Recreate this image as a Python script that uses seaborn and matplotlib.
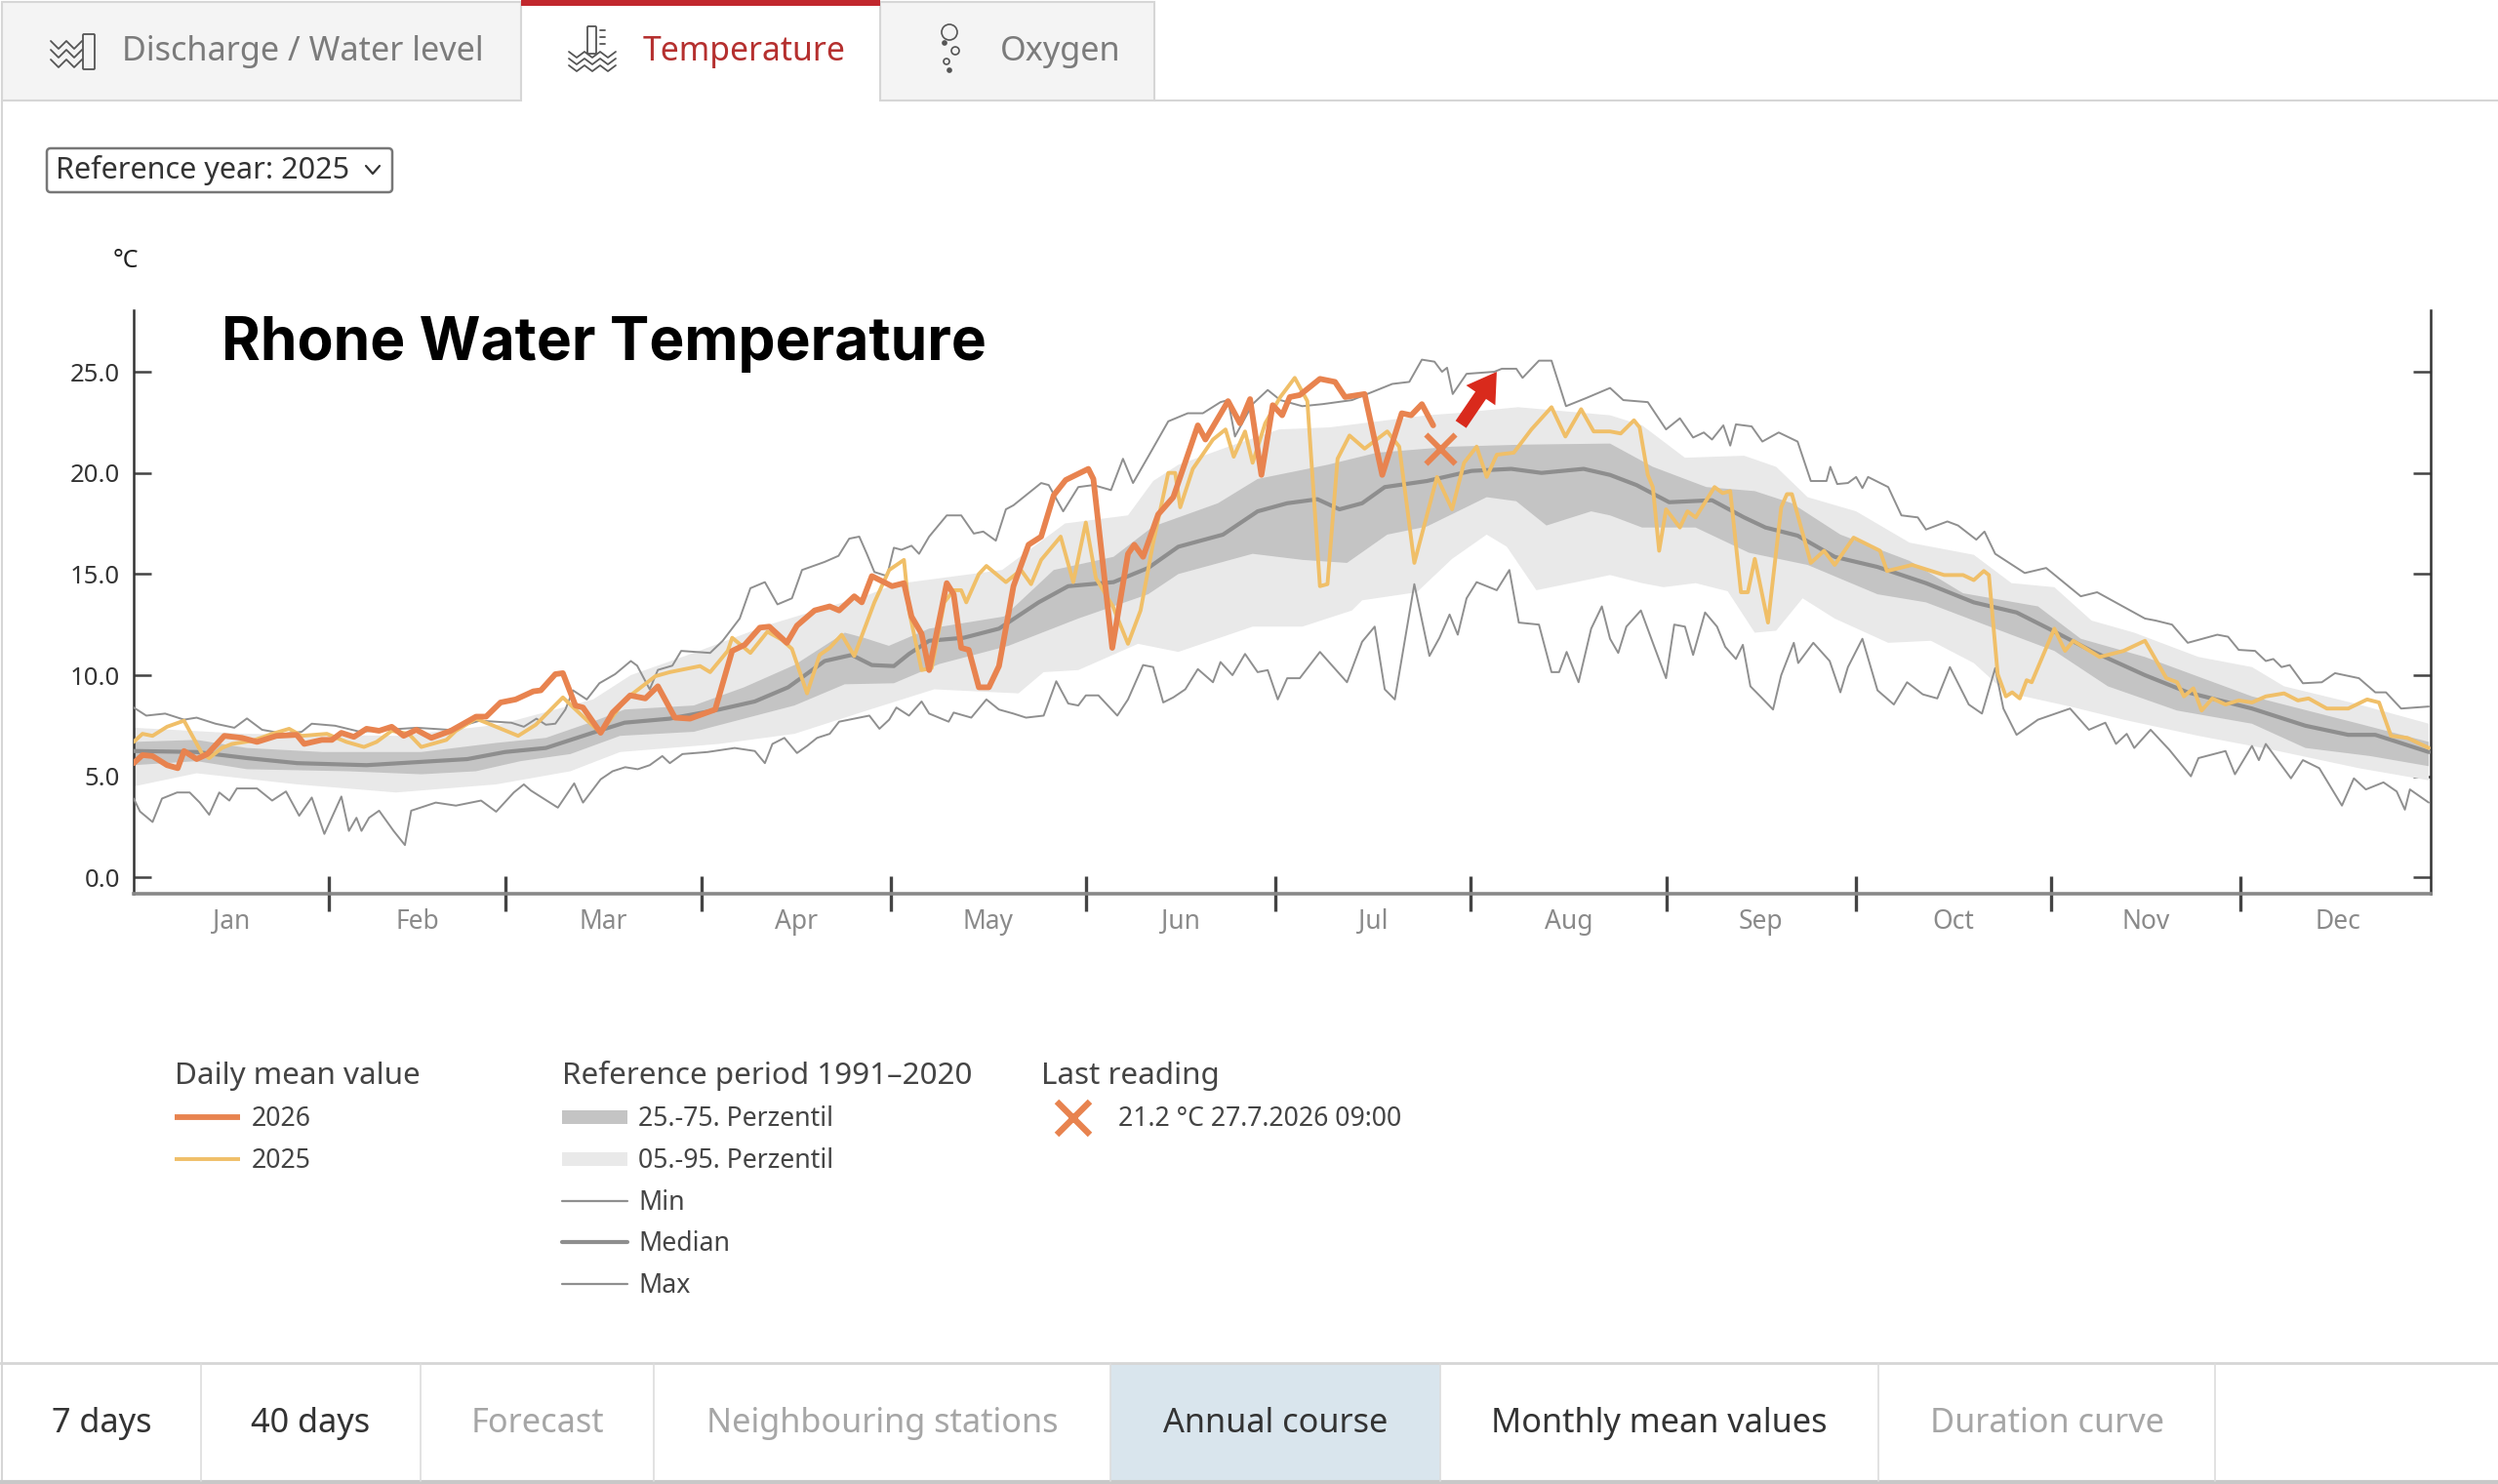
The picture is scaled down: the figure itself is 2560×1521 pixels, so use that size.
import numpy as np
import pandas as pd
import matplotlib
matplotlib.use("Agg")
import matplotlib.pyplot as plt
from matplotlib.patches import Rectangle, FancyBboxPatch, Circle
import seaborn as sns

# ---- values: (day of year, deg C) ----
months = ["Jan", "Feb", "Mar", "Apr", "May", "Jun", "Jul", "Aug", "Sep", "Oct", "Nov", "Dec"]
month_len = [31, 28, 31, 30, 31, 30, 31, 31, 30, 31, 30, 31]
y_ticks = [0, 5, 10, 15, 20, 25]

max_day = [0,2,5,8,10,13,16,18,20.4,24,26.7,28.3,32,36,40,45,50,55,60,62,64,65.5,67,68.6,69.8,72,74,76.5,79,80,82,83.3,85.6,87,91.6,93.6,96.3,98,100.3,102.3,104.6,106.2,109.8,112,113.7,115.3,116.5,117.7,119.7,120.8,122,123.6,124.8,126.4,129.2,131.5,133.5,135,137,138.6,139.8,141,144.2,145.4,147.7,150.1,152.5,155.3,157.2,158.8,161.2,164.4,167.5,169.9,172.7,173.9,175,177.8,180.2,182.2,185.7,188.9,193.6,196.8,200,202.7,204.7,206.7,207.9,208.7,209.6,211.8,216.2,217.4,219.7,220.7,223.3,225.3,227.6,230.8,234.6,236.7,240.6,243.5,245.7,247.8,249.5,250.8,252.6,253.7,254.6,257.1,258.8,261.4,264.4,266.5,269,269.6,270.7,272.4,273.7,274.7,275.6,278.8,280.9,283.5,284.8,288.2,289.9,292.8,294.1,295.8,300.5,303.9,309.4,312,319.6,321.3,323.9,326.4,331.1,332.8,334.5,337.1,338.8,340,341.3,342.6,344.7,347.7,349.8,353.6,356.2,357.9,360.3,364.7]
max_val = [8.4,8.0,8.1,7.8,7.9,7.6,7.4,7.86,7.3,7.1,7.2,7.6,7.5,7.2,7.3,7.4,7.3,7.75,7.65,7.45,7.85,7.55,7.6,8.3,9.25,8.8,9.6,10.05,10.7,10.47,9.3,10.26,10.47,11.2,11.1,11.7,12.8,14.3,14.6,13.5,13.8,15.2,15.6,15.9,16.75,16.85,16,15.1,14.9,16.3,16.2,16.4,16,16.85,17.9,17.9,17,17.1,16.65,18.2,18.4,18.7,19.5,19.4,18.1,19.3,19.4,19.15,20.7,19.5,20.8,22.55,22.95,22.95,23.5,23.6,21.8,23.4,24.1,23.6,23.3,23.4,23.6,24.0,24.4,24.5,25.6,25.5,25,25.2,23.9,24.9,25,25.15,25.15,24.7,25.55,25.55,23.3,23.7,24.2,23.6,23.5,22.15,22.7,21.75,22,21.65,22.35,21.35,22.4,22.3,21.55,22,21.55,19.6,19.6,20.3,19.45,19.5,19.8,19.25,19.8,19.3,17.9,17.8,17.2,17.6,17.4,16.7,17.1,16,15.05,15.3,13.9,14.1,12.8,12.7,12.5,11.6,12,11.9,11.25,11.2,10.7,10.8,10.4,10.5,9.6,9.65,10.1,9.85,9.15,9.15,8.35,8.45]

min_day = [0,1,3,4.5,6.9,8.9,10.5,12,13.6,15.2,16.4,19.6,22,24.2,26.3,28.3,30.3,33,34.2,35.4,36.2,37.4,39,41.3,43.1,44.1,48,51.2,55.2,57.6,60.4,62,63.1,67.4,70,71.4,74.2,76.1,78.1,80.1,82,84,85.2,87.2,91.2,95.5,98.7,100.3,101.5,103.4,105.4,107,108.6,110.6,112.1,116.9,118.5,120.05,121.2,123.2,125.2,126.4,129.5,130.3,133.1,135.5,137.5,139.8,141.8,144.6,146.6,148.5,150.1,151.3,153.3,156.3,158,160.4,162,163.6,165.2,167.1,169.1,171.5,172.7,174.6,176.6,178.6,180.2,181.8,183.3,185.3,188.5,192.8,195.2,197.2,198.8,200.4,203.5,205.9,207.5,209.1,210.4,211.8,213.4,216.6,218.6,220.1,223.3,225.3,226.5,227.7,229.6,231.6,233.3,234.6,235.9,237.2,239.5,241.4,243.5,244.8,246.5,247.8,249.7,251.6,252.9,254.6,255.7,256.9,258.8,260.5,261.8,263.8,264.5,266.9,269.5,271.2,272.4,274.7,277.1,279.7,281.8,284.3,286.6,288.6,291.6,293.7,295.8,297.1,299.2,302.6,307.7,310.7,313.3,315,316.7,317.9,320.5,323.5,326.9,328.1,332.4,333.9,336.6,337.7,338.8,342.8,344.7,347.3,350.9,352.8,354.7,357.5,359.6,360.9,361.7,364.7]
min_val = [3.9,3.26,2.74,3.9,4.2,4.2,3.7,3.1,4.2,3.8,4.4,4.4,3.8,4.25,3.05,3.95,2.15,4,2.3,2.95,2.3,2.95,3.3,2.3,1.6,3.3,3.7,3.55,3.8,3.25,4.2,4.6,4.3,3.45,4.65,3.7,4.85,5.25,5.45,5.35,5.55,6,5.65,6.1,6.2,6.4,6.25,5.65,6.6,6.9,6.15,6.5,6.9,7.1,7.7,8.0,7.35,7.8,8.4,8.0,8.7,8.1,7.7,8.15,7.9,8.8,8.3,8.1,7.9,8,9.7,8.6,8.5,9,9,8,8.8,10.5,10.4,8.65,8.9,9.3,10.3,9.65,10.65,10,11.05,10.15,10.25,8.8,9.85,9.85,11.15,9.65,11.65,12.4,9.3,8.8,14.5,10.95,11.85,13,12,13.8,14.6,14.2,15.2,12.6,12.5,10.15,10.15,11.15,9.65,12.3,13.4,11.8,11.1,12.4,13.2,11.6,9.85,12.5,12.4,11,13.1,12.4,11.4,10.8,11.5,9.45,8.85,8.3,10,11.6,10.6,11.6,10.7,9.15,10.4,11.8,9.25,8.55,9.65,9.05,8.85,10.4,8.55,8.1,10.35,8.35,7.05,7.8,8.35,7.3,7.65,6.6,7.1,6.4,7.3,6.3,5,5.9,6.25,5.1,6.5,5.8,6.6,4.9,5.8,5.4,3.55,4.9,4.35,4.7,4.25,3.35,4.35,3.7]

median_day = [0,10,18,26,37,53,59,65.5,73.4,78,85.2,93,98.7,104,109.8,114.1,117.3,120.8,123.2,126.4,131.9,137.5,143.8,148.5,155.7,161.2,166,173.1,178.6,183.3,188.1,191.6,195.2,198.8,205.5,212.6,218.9,223.7,230.4,234.6,238.8,244,250.8,255.9,259.3,264.4,270.3,277.1,284.8,292.4,299.2,304.3,311.1,319.6,326.4,336.6,345.1,351.9,356.2,364.7]
median_val = [6.25,6.2,5.9,5.65,5.55,5.85,6.2,6.4,7.2,7.65,7.85,8.3,8.7,9.4,10.7,11,10.5,10.45,11.05,11.7,11.85,12.3,13.6,14.4,14.6,15.3,16.35,16.95,18.1,18.5,18.7,18.2,18.5,19.3,19.6,20.1,20.2,20,20.2,19.9,19.4,18.55,18.65,17.8,17.3,16.9,15.85,15.35,14.55,13.6,13.1,12.3,11.2,10,9.15,8.35,7.5,7.05,7.05,6.2]

p75_day = [0,10,18,30,45.7,57.6,65.5,73.4,78,89,97,105,113,116,120,126.4,138.3,146.2,155.7,162,172.3,178.6,189.7,197.6,209.5,221.3,234.6,241.4,249.9,257.6,263.5,271.2,282.2,290.7,302.6,309.4,319.6,336.6,353.6,364.7]
p75_val = [6.7,6.8,6.4,6.2,6.2,6.65,6.9,7.75,8.3,8.5,9.4,10.5,12.1,11.85,11.45,12.3,12.9,15.2,15.85,17.35,18.5,19.7,20.4,21,21.3,21.4,21.45,20.3,19.3,19.1,18.5,16.95,15.65,14.05,13.4,11.8,10.9,8.95,7.6,6.7]
p25_day = [0,10,18,34,45.7,54.4,61.5,69.4,77.3,89,97,105,113,120.8,128,139,150.1,161.2,166,177.8,185.7,192.8,199.2,205.5,215,219.7,224.5,231.6,234.6,239.7,248.2,256.7,266,277.1,284.8,294.1,305.2,313.7,324.7,336.6,345.1,355.4,364.7]
p25_val = [5.55,5.75,5.35,5.25,5.1,5.25,5.75,6.1,7.0,7.2,7.85,8.5,9.55,9.6,10.55,11.45,12.8,14,15,16,15.7,15.55,16.95,17.35,18.8,18.6,17.4,18.1,17.9,17.3,17.3,16.05,15.45,14,13.6,12.5,11.2,9.45,8.25,7.6,6.4,6,5.5]
p95_day = [0,18,42,58,73,79,89,101,117,121,138,148,158,162,166,174,182,190,205.5,210,220,234.6,239.7,246.5,255.9,261,266,273.7,282.2,292.4,298.4,305.2,311.1,317.9,328.1,336.6,341.7,353.6,364.7]
p95_val = [7.4,7.1,7,7.55,8.8,10,11.1,12.5,14,14.5,15.2,17.5,17.9,19.6,20.4,21.3,22.15,22.25,22.85,22.95,23.25,22.85,22.35,20.75,20.85,20.3,18.8,18.1,16.55,15.95,14.55,14.35,12.7,12.1,10.9,10.4,9.45,8.55,7.6]
p05_day = [0,10,26,41.7,57.6,69.4,77.3,93,105,117,127.2,140.6,144.6,150.1,159.6,166,177.8,185.7,193.6,195.2,203.9,209.5,215,218.2,222.9,229.2,234.6,239.7,243.1,248.2,253.3,257.6,261,265.2,270.3,278.8,285.6,292.4,297.5,307.7,316.2,328.1,340,353.6,364.7]
p05_val = [4.5,5.15,4.6,4.2,4.6,5.25,6.2,6.6,7.1,8.3,9.3,9.1,10.15,10.25,11.55,11.15,12.4,12.4,13.2,13.7,14.1,15.75,16.95,16.35,14.2,14.6,14.95,14.55,14.35,14.55,14.15,12.1,12.2,13.8,12.8,11.6,11.7,10.6,9.15,8.45,7.8,7,6.3,5.4,4.8]

y2026_day = [0,1.4,3,5.3,7,8,10,11.7,14.4,17.2,19.6,22.7,25.9,27.1,29.9,31.5,33,35,37,39,41,42.9,44.9,47.3,50.4,54.4,56,58.3,60.7,63.5,64.7,67,68.2,70.2,71.4,74.2,76.1,78.9,81.3,83.3,86,88.4,92.4,95.1,97.1,99.5,101,103.8,105.4,108.2,110.6,112.1,114.5,115.7,117.3,120.5,122.4,123.6,125.2,126.4,129.2,130.3,131.5,132.7,134.3,135.9,137.5,139.8,142.2,144.2,146.2,148.1,151.7,152.5,155.5,158,159,160.4,162.8,165.2,169.1,170.3,173.9,175.8,177.4,179.2,181,182.5,183.7,185.3,188.5,190.9,192.5,195.6,198.4,201.5,203,204.7,206.5]
y2026_val = [5.65,6.05,6,5.55,5.4,6.25,5.85,6.1,7,6.9,6.7,7,7.05,6.6,6.8,6.8,7.15,6.95,7.35,7.25,7.45,7,7.3,6.9,7.25,7.95,7.95,8.65,8.8,9.2,9.25,10.05,10.1,8.5,8.4,7.15,8.15,9,8.85,9.45,7.9,7.85,8.3,11.2,11.5,12.35,12.4,11.6,12.45,13.2,13.4,13.2,13.9,13.6,14.9,14.4,14.55,12.9,12.05,10.25,14.55,14,11.35,11.25,9.4,9.4,10.45,14.4,16.45,16.85,18.9,19.65,20.2,19.7,11.35,16,16.45,15.85,17.95,18.8,22.35,21.65,23.55,22.45,23.65,19.9,23.35,22.85,23.75,23.85,24.65,24.5,23.75,23.9,19.9,22.95,22.85,23.4,22.35]

y2025_day = [0,1.4,3,5.3,8,10.9,12,14,15.6,18.8,22,24.7,26.7,30.7,33.8,36.6,38.6,41,43.7,45.7,49.7,51.2,54.4,56.8,61.1,63.9,68.2,71.4,74.2,78.1,82.9,85.2,90,91.6,94.4,95.1,98,100.7,103,104.6,107,109,110.6,112.5,114.5,117.7,120.05,122.4,123.2,125.2,126.8,128.8,130.3,131.5,132.3,134.3,135.5,138.6,141,142.6,144.2,147.3,149.3,151.3,152.9,155.6,158,160,162,164.4,165.5,166.3,168.3,171.5,173.5,174.8,176.6,177.8,179.8,182.2,184.5,186.5,188.5,189.7,191.3,193.2,195.6,199.2,201.1,203.5,207.1,209.5,211.4,213.4,215,216.6,219.3,222.1,225.3,227.5,230,232,234.6,236.3,238.4,239.3,240.6,241.4,242.4,243.5,245.7,246.9,248.2,251.2,252.5,253.7,255.4,256.5,257.6,259.7,261.8,262.7,263.5,266.5,268.6,270.3,273.3,277.5,278.6,282.6,287.7,290.7,292.4,294,294.8,296.2,297.5,298.5,299.7,300.8,301.6,305.2,306.9,308.2,312.4,316.2,319.6,323,324.7,325.8,327.3,328.6,330.3,332.4,334.5,336.6,338.8,341.7,343.9,345.6,348.5,351.9,354.9,356.8,358.7,361.3,364.7]
y2025_val = [6.7,7.1,7,7.45,7.75,6.1,5.9,6.4,6.6,6.75,7.1,7.35,7,7.1,6.7,6.45,6.7,7.25,7.1,6.45,6.8,7.25,7.85,7.55,7,7.55,8.9,7.95,7.15,8.8,9.95,10.15,10.45,10.15,11.2,11.85,11.1,12.15,11.75,11.3,9.1,11,11.35,12,10.95,13.6,15.2,15.7,13.2,10.25,10.35,13.6,14.2,14.2,13.6,15,15.4,14.6,15.2,14.5,15.7,16.85,14.6,17.55,14.8,13.4,11.55,13.2,16.55,20,20,18.3,20.2,21.65,22.15,20.8,22.05,20.5,22.45,23.75,24.7,23.55,14.4,14.5,20.7,21.85,21.2,22.05,21.3,15.55,19.8,18.2,20.5,21.3,19.8,20.9,21,22.15,23.25,21.8,23.15,22.05,22.05,21.95,22.6,22.25,19.9,19.3,16.15,18.2,17.3,18.1,17.8,19.3,19,19.1,14.1,14.1,15.75,12.6,18.3,18.95,18.95,15.55,16.15,15.45,16.8,16.15,15.15,15.45,14.95,14.95,14.7,15.15,14.95,10.05,8.95,9.15,8.85,9.75,9.65,12.3,11.2,11.7,10.9,11.2,11.7,9.85,9.65,8.95,9.35,8.25,8.85,8.55,8.75,8.65,8.95,9.1,8.75,8.85,8.35,8.35,8.8,8.65,7,6.9,6.4]

last_day = [207.6]
last_val = [21.2]

title = "Rhone Water Temperature"
tab_labels = ["Discharge / Water level", "Temperature", "Oxygen"]
bottom_labels = ["7 days", "40 days", "Forecast", "Neighbouring stations", "Annual course", "Monthly mean values", "Duration curve"]

# ---- styles ----
C26, C25 = "#e8834f", "#f0bf68"
CMED, CEXT = "#8e8e8e", "#8f8f8f"
CDARK, CLIGHT = "#c4c4c4", "#e9e9e9"

sns.set_theme(style="white")
plt.rcParams["font.family"] = ["Noto Sans", "DejaVu Sans"]
plt.rcParams["font.weight"] = 500

W, H = 2560, 1521
fig = plt.figure(figsize=(W / 100, H / 100), dpi=100, facecolor="white")
L, R, T, B = 137, 2491, 318, 916
Y0, YS = 899.3, 20.73
MONTH_STRETCH = 365 / 364.2   # the month ticks run slightly wider than the day axis
ax = fig.add_axes([L / W, 1 - B / H, (R - L) / W, (B - T) / H])

def draw(days, vals, **kw):
    sns.lineplot(data=pd.DataFrame({"day": days, "v": vals}), x="day", y="v", ax=ax,
                 estimator=None, sort=False, legend=False, solid_joinstyle="round", **kw)

ax.fill(list(p95_day) + list(p05_day)[::-1], list(p95_val) + list(p05_val)[::-1], color=CLIGHT, lw=0, zorder=1)
ax.fill(list(p75_day) + list(p25_day)[::-1], list(p75_val) + list(p25_val)[::-1], color=CDARK, lw=0, zorder=2)
draw(median_day, median_val, color=CMED, lw=3.0, zorder=3)
draw(min_day, min_val, color=CEXT, lw=1.4, zorder=3)
draw(max_day, max_val, color=CEXT, lw=1.4, zorder=3)
draw(y2025_day, y2025_val, color=C25, lw=2.8, zorder=4)
draw(y2026_day, y2026_val, color=C26, lw=4.2, zorder=5)
sns.scatterplot(x=last_day, y=last_val, ax=ax, marker="x", s=470, color=C26, linewidth=4.2, zorder=6, legend=False)
ax.annotate("", xy=(216.6, 25.0), xytext=(210.9, 22.4), zorder=7,
            arrowprops=dict(facecolor="#d92a1c", edgecolor="none", width=9.5, headwidth=26, headlength=21, shrink=0))

ax.set_xlim(0, 365)
ax.set_ylim((Y0 - B) / YS, (Y0 - T) / YS)
ax.set_xlabel(""); ax.set_ylabel("")
edges = np.cumsum([0] + month_len) * MONTH_STRETCH
ax.set_xticks(edges[1:-1])
ax.set_xticklabels([])
ax.set_xticks((edges[:-1] + edges[1:]) / 2, minor=True)
ax.set_xticklabels(months, minor=True, fontsize=19, color="#8a8a8a")
ax.set_yticks(y_ticks)
ax.set_yticklabels([f"{v:.1f}" for v in y_ticks], fontsize=18.5, color="#333333")
ax.tick_params(axis="x", which="major", bottom=True, length=26, width=2.4, color="#444444", direction="inout", pad=0)
ax.tick_params(axis="x", which="minor", bottom=False, length=0, pad=11)
ax.tick_params(axis="y", which="major", left=True, right=True, length=13, width=1.8, color="#444444", direction="in", pad=10)
sns.despine(ax=ax, top=True, right=False)
ax.spines["left"].set(color="#333333", lw=1.8)
ax.spines["right"].set(color="#333333", lw=1.8)
ax.spines["bottom"].set(color="#888888", lw=2.6)
ax.patch.set_alpha(0)

# ---- page furniture, in pixel coordinates ----
ui = fig.add_axes([0, 0, 1, 1], zorder=-1)
ui.set_xlim(0, W); ui.set_ylim(H, 0); ui.axis("off")
over = fig.add_axes([0, 0, 1, 1], zorder=5)
over.set_xlim(0, W); over.set_ylim(H, 0); over.axis("off"); over.patch.set_alpha(0)

def label(x, y, s, size, color, ha="left"):
    ui.text(x, y + 3, s, fontsize=size, color=color, va="center", ha=ha)

BORDER = "#d6d6d6"
ui.plot([2, 2], [103, 1519], color=BORDER, lw=1.5)
ui.plot([0, W], [1397, 1397], color=BORDER, lw=2)
ui.plot([0, W], [1519, 1519], color="#c8c8c8", lw=3)
ui.plot([1183, W], [103, 103], color=BORDER, lw=1.5)

ui.add_patch(Rectangle((2, 2), 532, 101, fc="#f4f4f4", ec=BORDER, lw=1.5))
ui.add_patch(Rectangle((902, 2), 281, 101, fc="#f4f4f4", ec=BORDER, lw=1.5))
ui.add_patch(Rectangle((534, 0), 368, 6, fc="#c1272d", ec="none"))
label(125, 50, tab_labels[0], 24.6, "#7b7b7b")
label(659, 50, tab_labels[1], 24.3, "#b5302f")
label(1025, 50, tab_labels[2], 24.6, "#7b7b7b")

# tab icons
def wave(x0, y, n=4, dx=8, amp=3, color="#555555"):
    xs = [x0 + i * dx for i in range(n * 2 + 1)]
    ys = [y + (amp if i % 2 else -amp) for i in range(n * 2 + 1)]
    ui.plot(xs, ys, color=color, lw=1.3)
for yy in (46, 55, 65):
    wave(52, yy, n=2, dx=8, amp=4)
ui.add_patch(FancyBboxPatch((86, 36), 10, 34, boxstyle="round,pad=1", fc="none", ec="#555555", lw=1.3))
for yy in (56, 63, 70):
    wave(583, yy, n=3, dx=8, amp=3)
ui.add_patch(FancyBboxPatch((603, 28), 7, 26, boxstyle="round,pad=1", fc="none", ec="#555555", lw=1.3))
for yy in (31, 38, 45):
    ui.plot([615, 620], [yy, yy], color="#555555", lw=1.3)
for (cx, cy, r, f) in [(973, 33, 8, "none"), (968, 44, 2, "#555555"), (979, 52, 4, "none"), (970, 63, 3, "none"), (973, 72, 2, "#555555")]:
    ui.add_patch(Circle((cx, cy), r, fc=f, ec="#555555", lw=1.2))

# selector
ui.add_patch(FancyBboxPatch((50, 154), 350, 41, boxstyle="round,pad=2,rounding_size=4", fc="white", ec="#777777", lw=1.8))
label(57, 172, "Reference year: 2025", 22, "#333333")
ui.plot([375, 382, 389], [170, 178, 170], color="#333333", lw=1.6)
label(116, 265, "°C", 18, "#222222")

over.text(227, 353, title, fontsize=43.6, fontweight="bold", family=["Inter", "DejaVu Sans"], color="black", va="center", ha="left")

# legend
LT = "#444444"
for x, t in [(179, "Daily mean value"), (576, "Reference period 1991–2020"), (1067, "Last reading")]:
    label(x, 1100, t, 22.6, LT)
ui.plot([179, 246], [1145, 1145], color=C26, lw=4.2, solid_capstyle="butt")
ui.plot([179, 246], [1188, 1188], color=C25, lw=2.8, solid_capstyle="butt")
label(258, 1144, "2026", 19.2, LT)
label(258, 1187, "2025", 19.2, LT)
ui.add_patch(Rectangle((576, 1138), 67, 14, fc=CDARK, ec="none"))
ui.add_patch(Rectangle((576, 1181), 67, 14, fc=CLIGHT, ec="none"))
ui.plot([576, 643], [1231, 1231], color=CEXT, lw=1.6)
ui.plot([576, 643], [1273, 1273], color=CMED, lw=3.0)
ui.plot([576, 643], [1316, 1316], color=CEXT, lw=1.6)
for y, t in zip((1144, 1187, 1230, 1272, 1315), ("25.-75. Perzentil", "05.-95. Perzentil", "Min", "Median", "Max")):
    label(654, y, t, 19.2, LT)
ui.plot([1100], [1146], marker="x", ms=24, mew=4.6, color=C26)
label(1146, 1144, "21.2 °C 27.7.2026 09:00", 19.2, LT)

# bottom bar
bar_edges = [2, 206, 431, 670, 1138, 1476, 1925, 2270]
bar_colors = ["#333333", "#333333", "#a6a6a6", "#a6a6a6", "#333333", "#333333", "#a6a6a6"]
ui.add_patch(Rectangle((1138, 1398), 338, 120, fc="#d9e5ed", ec="none"))
for x in bar_edges[1:]:
    ui.plot([x, x], [1398, 1518], color="#dddddd", lw=1.2)
for i, t in enumerate(bottom_labels):
    label((bar_edges[i] + bar_edges[i + 1]) / 2, 1456, t, 24.7, bar_colors[i], ha="center")

fig.savefig("out.png", dpi=100, facecolor="white")
